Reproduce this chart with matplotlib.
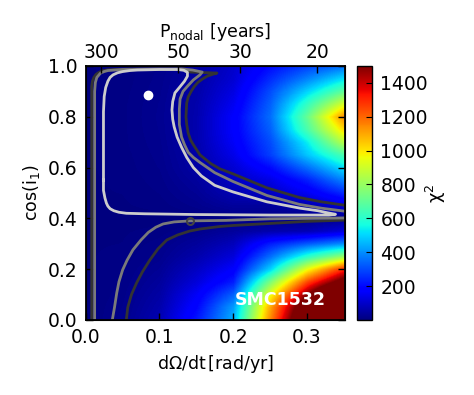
import numpy as np
import matplotlib
matplotlib.use("Agg")
import matplotlib.pyplot as plt

# chi^2 map (rows: cos(i1), columns: dOmega/dt)
domega = [0.0, 0.05, 0.10, 0.15, 0.20, 0.25, 0.30, 0.35]
cos_i = [0.00, 0.05, 0.10, 0.15, 0.20, 0.25, 0.30, 0.35, 0.40, 0.45, 0.50,
         0.55, 0.60, 0.65, 0.70, 0.75, 0.80, 0.85, 0.90, 0.95, 1.00]
chi2 = [
    [5, 20, 70, 220, 450, 1150, 1800, 2200],
    [5, 18, 60, 190, 420, 1100, 1700, 2100],
    [5, 15, 50, 160, 330, 950, 1500, 2000],
    [5, 12, 40, 120, 230, 750, 1250, 1600],
    [5, 10, 30, 90, 170, 500, 950, 1300],
    [5, 8, 20, 60, 120, 350, 600, 800],
    [5, 6, 15, 40, 80, 230, 320, 400],
    [4, 5, 8, 20, 40, 60, 70, 120],
    [3, 3, 3, 5, 10, 10, 15, 20],
    [4, 5, 8, 20, 40, 40, 60, 120],
    [5, 6, 12, 30, 70, 90, 150, 250],
    [5, 7, 15, 40, 90, 130, 230, 380],
    [5, 8, 18, 50, 110, 200, 350, 520],
    [5, 9, 20, 55, 140, 280, 480, 660],
    [5, 10, 22, 60, 160, 300, 540, 860],
    [5, 10, 24, 62, 170, 330, 660, 1020],
    [5, 10, 25, 62, 170, 350, 710, 1150],
    [5, 10, 24, 60, 150, 330, 620, 920],
    [5, 9, 22, 55, 130, 300, 500, 700],
    [5, 8, 20, 50, 110, 250, 380, 520],
    [5, 8, 18, 40, 100, 200, 280, 350],
]

# confidence contours (dOmega/dt, cos i1)
light_x = [0.024, 0.024, 0.025, 0.027, 0.030, 0.033, 0.037, 0.043, 0.05, 0.06, 0.07, 0.10,
           0.125, 0.133, 0.138, 0.138, 0.134, 0.127, 0.121, 0.118, 0.117, 0.118, 0.120,
           0.124, 0.130, 0.137, 0.146, 0.157, 0.175, 0.2, 0.246, 0.291, 0.315, 0.328, 0.339,
           0.33, 0.25, 0.15, 0.08, 0.055, 0.045, 0.038, 0.033, 0.030, 0.028, 0.026, 0.024,
           0.024]
light_c = [0.55, 0.82, 0.88, 0.915, 0.94, 0.955, 0.965, 0.973, 0.978, 0.982, 0.984, 0.986,
           0.986, 0.983, 0.975, 0.96, 0.94, 0.915, 0.894, 0.86, 0.827, 0.79, 0.76,
           0.72, 0.68, 0.64, 0.60, 0.567, 0.53, 0.504, 0.465, 0.44, 0.43, 0.422, 0.416,
           0.413, 0.413, 0.415, 0.418, 0.42, 0.424, 0.43, 0.438, 0.448, 0.46, 0.48, 0.51,
           0.55]

mid_top_x = [0.012, 0.012, 0.013, 0.015, 0.02, 0.025, 0.03, 0.05, 0.10, 0.13, 0.145, 0.158,
             0.155, 0.146, 0.138, 0.132, 0.128, 0.127, 0.127, 0.13, 0.134, 0.139, 0.146, 0.155,
             0.175, 0.2, 0.246, 0.29, 0.32, 0.36]
mid_top_c = [0.0, 0.90, 0.935, 0.955, 0.972, 0.978, 0.982, 0.986, 0.988, 0.988, 0.984, 0.976,
             0.965, 0.945, 0.92, 0.9, 0.87, 0.83, 0.77, 0.72, 0.69, 0.66, 0.64, 0.62,
             0.58, 0.545, 0.49, 0.455, 0.44, 0.425]
mid_low_x = [0.36, 0.3, 0.25, 0.19, 0.141, 0.12, 0.105, 0.095, 0.085, 0.075, 0.064, 0.056,
             0.05, 0.045, 0.042, 0.039, 0.036]
mid_low_c = [0.402, 0.400, 0.398, 0.392, 0.39, 0.386, 0.378, 0.365, 0.345, 0.315, 0.276,
             0.235, 0.197, 0.15, 0.106, 0.05, 0.0]

dark_top_x = [0.008, 0.008, 0.009, 0.011, 0.014, 0.018, 0.023, 0.03, 0.06, 0.135, 0.142, 0.16,
              0.178, 0.172, 0.165, 0.158, 0.152, 0.147, 0.143, 0.139, 0.137, 0.136, 0.137,
              0.139, 0.142, 0.146, 0.155, 0.17, 0.182, 0.2, 0.246, 0.29, 0.32, 0.36]
dark_top_c = [0.0, 0.92, 0.94, 0.955, 0.967, 0.975, 0.981, 0.985, 0.988, 0.988, 0.976, 0.974,
              0.972, 0.967, 0.96, 0.948, 0.935, 0.918, 0.9, 0.878, 0.854, 0.8, 0.77,
              0.736, 0.71, 0.69, 0.65, 0.615, 0.595, 0.575, 0.52, 0.482, 0.465, 0.448]
dark_low_x = [0.36, 0.3, 0.25, 0.2, 0.182, 0.155, 0.141, 0.125, 0.11, 0.098, 0.087, 0.077,
              0.069, 0.062, 0.057, 0.055]
dark_low_c = [0.394, 0.388, 0.38, 0.372, 0.368, 0.358, 0.35, 0.335, 0.315, 0.28, 0.236,
              0.19, 0.146, 0.1, 0.05, 0.0]

best_x, best_c = 0.084, 0.886
alt_x, alt_c = 0.1415, 0.391
p_nodal = [300, 50, 30, 20]

plt.rcParams['font.size'] = 13.5
plt.rcParams['mathtext.default'] = 'regular'
plt.rcParams['xtick.direction'] = 'in'
plt.rcParams['ytick.direction'] = 'in'
plt.rcParams['xtick.major.size'] = 5
plt.rcParams['ytick.major.size'] = 5
plt.rcParams['xtick.major.pad'] = 6
plt.rcParams['ytick.major.pad'] = 6

fig = plt.figure(figsize=(4.74, 3.95), dpi=100)
ax = fig.add_axes([0.181, 0.190, 0.547, 0.643])
cax = fig.add_axes([0.753, 0.190, 0.032, 0.643])

# grid nodes are cell centres
dx = (domega[1] - domega[0]) / 2
dy = (cos_i[1] - cos_i[0]) / 2
img = ax.imshow(np.array(chi2), origin='lower', aspect='auto', cmap='jet',
                vmin=0, vmax=1500, interpolation='bilinear', interpolation_stage='data',
                extent=[domega[0] - dx, domega[-1] + dx, cos_i[0] - dy, cos_i[-1] + dy])

ax.plot(dark_top_x, dark_top_c, color='#333333', lw=2)
ax.plot(dark_low_x, dark_low_c, color='#333333', lw=2)
ax.plot(mid_top_x, mid_top_c, color='#7a7a7a', lw=2)
ax.plot(mid_low_x, mid_low_c, color='#7a7a7a', lw=2)
ax.plot(light_x, light_c, color='#cccccc', lw=2)
ax.plot(alt_x, alt_c, 'o', ms=5, mfc='none', mec='#444444', mew=1.5)
ax.plot(best_x, best_c, 'o', ms=6, color='white')

ax.text(0.925, 0.045, 'SMC1532', color='white', fontsize=12.5, fontweight='bold',
        ha='right', va='bottom', transform=ax.transAxes)

ax.set_xlim(0, 0.352)
ax.set_ylim(0, 1)
ax.set_xticks([0.0, 0.1, 0.2, 0.3])
ax.set_yticks([0.0, 0.2, 0.4, 0.6, 0.8, 1.0])
ax.tick_params(right=True, top=False, width=1)
ax.set_xlabel(r'$\mathrm{d}\Omega/\mathrm{dt}\,[\mathrm{rad/yr}]$', fontsize=12.5)
ax.set_ylabel(r'cos(i$_1$)', fontsize=12.5)
for s in ax.spines.values():
    s.set_linewidth(1.3)

top = ax.twiny()
top.set_xlim(ax.get_xlim())
top.set_xticks([2 * np.pi / p for p in p_nodal])
top.set_xticklabels([str(p) for p in p_nodal])
top.tick_params(width=1, pad=3)
top.set_xlabel(r'P$_{\rm nodal}$ [years]', fontsize=12.5)

cb = fig.colorbar(img, cax=cax)
cb.set_ticks([200, 400, 600, 800, 1000, 1200, 1400])
cb.set_label(r'$\chi^2$', fontsize=13, labelpad=-3)
cb.ax.tick_params(direction='in', length=4)
cb.outline.set_linewidth(1.0)

fig.savefig('out.png', dpi=100)
